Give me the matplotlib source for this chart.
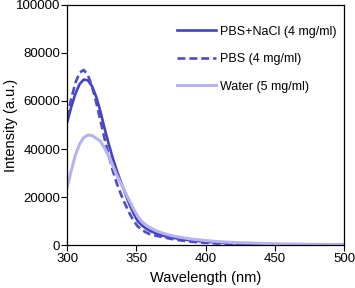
import matplotlib
matplotlib.use("Agg")
import matplotlib.pyplot as plt

plt.rcParams['font.family'] = ['Liberation Sans', 'DejaVu Sans']

# wavelength grid (nm)
wavelength = [300, 303, 306, 309, 312, 315, 318, 321, 324, 327, 330, 333, 336, 339, 342,
              345, 348, 351, 354, 357, 360, 365, 370, 375, 380, 390, 400, 410, 420, 440,
              460, 480, 500]

# intensity (a.u.)
pbs_nacl = [51000, 57500, 63000, 67000, 68900, 68600, 66200, 61800, 55800, 48800, 42200,
            36200, 30800, 26000, 21500, 17000, 13200, 10000, 8200, 6900, 5900, 4700, 3800,
            3200, 2700, 1900, 1400, 1000, 750, 450, 300, 200, 120]
pbs = [53000, 61000, 67500, 71800, 72900, 70800, 66000, 59500, 52000, 44500, 37500, 31000,
       25500, 21000, 17000, 13300, 10200, 7800, 6300, 5300, 4500, 3800, 3200, 2600, 2100,
       1400, 900, 600, 450, 300, 200, 120, 80]
water = [24000, 31000, 37500, 42000, 44800, 45800, 45600, 44500, 43300, 40500, 37000, 33000,
         29000, 25500, 22000, 18500, 15000, 12000, 9800, 8300, 7200, 5800, 4800, 4000, 3400,
         2500, 1900, 1400, 1100, 700, 450, 300, 200]

labels = ["PBS+NaCl (4 mg/ml)", "PBS (4 mg/ml)", "Water (5 mg/ml)"]

fig = plt.figure(figsize=(3.55, 2.88), dpi=100)
ax = fig.add_axes([0.189, 0.149, 0.780, 0.834])

ax.plot(wavelength, pbs_nacl, color='#4543c2', lw=1.9, label=labels[0])
ax.plot(wavelength, pbs, color='#4d4bc8', lw=1.9, dashes=(3, 1.5), label=labels[1])
ax.plot(wavelength, water, color='#b7b3ef', lw=2.2, label=labels[2])

ax.set_xlim(300, 500)
ax.set_ylim(0, 100000)
ax.set_xticks([300, 350, 400, 450, 500])
ax.set_yticks([0, 20000, 40000, 60000, 80000, 100000])
ax.tick_params(direction='out', length=4, width=0.8, labelsize=9.5, pad=1)
ax.tick_params(axis='x', pad=2)
for s in ax.spines.values():
    s.set_linewidth(0.9)

ax.set_xlabel("Wavelength (nm)", fontsize=10.5, labelpad=4)
ax.set_ylabel("Intensity (a.u.)", fontsize=10.5)
ax.yaxis.set_label_coords(-0.177, 0.5)

ax.legend(loc='upper left', bbox_to_anchor=(0.38, 0.935), frameon=False, fontsize=9,
          handlelength=3.1, handletextpad=0.3, labelspacing=1.25, borderaxespad=0)

fig.savefig("out.png", dpi=100)
